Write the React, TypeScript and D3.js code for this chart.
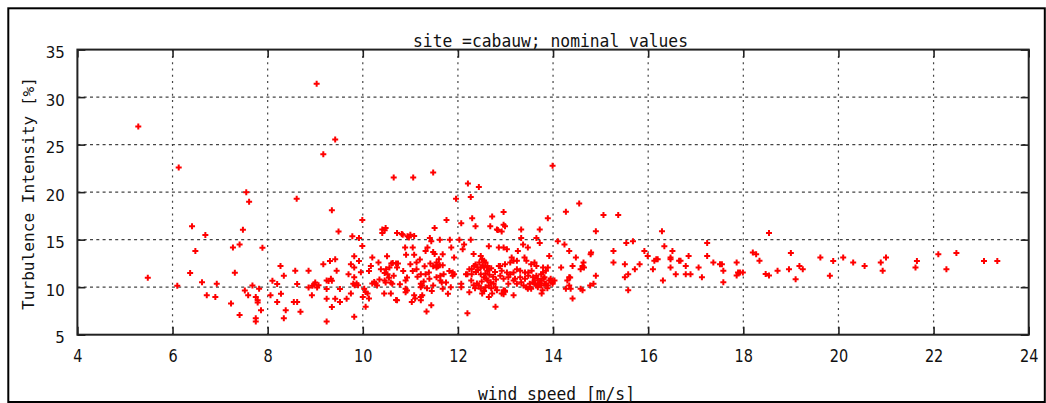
import React, { useEffect } from 'react';
import * as d3 from 'd3';

// [wind speed (m/s), turbulence intensity (%)]
type Sample = [number, number];

const xTicks = [4, 6, 8, 10, 12, 14, 16, 18, 20, 22, 24];
const yTicks = [5, 10, 15, 20, 25, 30, 35];
const titleText = 'site =cabauw; nominal values';
const xLabel = 'wind speed [m/s]';
const yLabel = 'Turbulence Intensity [%]';

const below8: Sample[] = [
  [5.28, 26.9], [5.48, 11.0], [6.1, 10.15], [6.13, 22.6], [6.37, 11.5], [6.41, 16.4], [6.48, 13.8],
  [6.62, 10.52], [6.69, 15.5], [6.72, 9.15], [6.9, 8.97], [6.93, 10.35], [7.23, 8.28], [7.27, 14.17],
  [7.31, 11.52], [7.41, 14.5], [7.41, 7.08], [7.48, 16.05], [7.52, 9.65], [7.55, 20.0], [7.59, 9.14],
  [7.61, 19.0], [7.68, 10.18], [7.75, 8.97], [7.75, 6.73], [7.75, 6.38], [7.79, 8.63], [7.79, 8.4],
  [7.82, 9.83], [7.86, 7.58], [7.89, 14.15],
];

const from8to10: Sample[] = [
  [8.06, 9.14], [8.1, 10.68], [8.2, 10.33], [8.2, 8.43], [8.27, 12.24], [8.28, 9.32], [8.34, 11.2],
  [8.38, 7.58], [8.34, 6.73], [8.58, 11.73], [8.61, 19.3], [8.62, 10.33], [8.55, 8.43], [8.62, 8.43],
  [8.69, 7.42], [8.86, 11.73], [8.86, 9.97], [8.93, 9.14], [8.94, 10.14], [8.98, 10.3], [9.0, 10.5],
  [9.04, 9.97], [9.07, 10.2], [9.03, 31.4], [9.17, 24.0], [9.42, 25.55], [9.17, 12.42], [9.24, 9.82],
  [9.24, 8.78], [9.24, 6.38], [9.31, 12.76], [9.28, 10.66], [9.35, 10.68], [9.33, 10.9], [9.42, 12.94],
  [9.45, 11.73], [9.35, 7.92], [9.42, 8.78], [9.52, 9.82], [9.52, 8.43], [9.66, 8.78], [9.7, 11.37],
  [9.35, 18.1], [9.49, 15.87], [9.24, 10.7], [9.75, 12.42], [9.82, 13.26], [9.75, 9.34], [9.82, 6.9],
  [9.8, 10.35], [9.83, 10.2], [9.87, 10.4], [9.9, 10.2], [9.82, 11.05], [9.82, 12.07], [9.92, 12.76],
  [9.96, 11.58], [9.99, 17.07], [9.78, 15.36], [9.92, 15.18], [9.99, 14.34],
];

const from10to12: Sample[] = [
  [10.03, 9.83], [10.06, 9.5], [10.1, 9.34], [10.13, 8.8], [10.06, 7.93], [10.0, 8.98], [10.17, 12.24],
  [10.2, 13.12], [10.13, 11.71], [10.2, 10.4], [10.24, 10.55], [10.27, 10.4], [10.3, 10.18], [10.41, 16.06],
  [10.48, 16.23], [10.41, 15.7], [10.46, 16.0], [10.51, 13.26], [10.6, 12.5], [10.63, 12.55], [10.7, 12.5],
  [10.74, 12.5], [10.46, 11.5], [10.49, 11.9], [10.56, 12.07], [10.52, 11.37], [10.46, 10.7], [10.48, 10.5],
  [10.59, 10.5], [10.62, 10.35], [10.59, 9.34], [10.45, 9.34], [10.72, 8.63], [10.72, 12.07], [10.72, 15.7],
  [10.65, 21.55], [10.82, 15.6], [10.84, 15.53], [10.94, 15.36], [11.0, 15.53], [10.97, 15.22],
  [11.08, 15.39], [11.06, 21.55], [11.48, 22.08], [10.89, 14.17], [11.05, 14.17], [11.36, 14.17],
  [11.32, 13.8], [10.91, 13.4], [11.08, 13.4], [11.48, 13.7], [11.51, 13.5], [11.41, 15.18], [11.44, 14.83],
  [11.51, 16.23], [11.62, 15.0], [11.68, 13.47], [11.6, 12.94], [11.55, 12.6], [11.0, 12.42], [11.13, 12.6],
  [10.85, 11.71], [11.05, 11.71], [11.13, 11.9], [11.55, 12.3], [11.58, 12.2], [11.55, 12.07], [11.62, 12.3],
  [11.68, 12.3], [11.48, 12.2], [11.22, 11.37], [11.32, 11.37], [11.39, 11.55], [11.7, 11.37], [11.63, 11.2],
  [11.82, 11.71], [11.89, 11.2], [10.93, 11.03], [10.9, 10.7], [11.22, 10.35], [11.22, 10.0], [11.25, 10.18],
  [10.9, 9.83], [10.93, 9.66], [10.9, 9.48], [11.55, 11.05], [11.63, 10.7], [11.66, 10.5], [11.48, 10.18],
  [11.68, 9.83], [11.79, 9.3], [11.08, 9.16], [11.22, 8.98], [11.25, 9.16], [11.22, 8.63], [11.03, 8.45],
  [11.44, 8.11], [11.34, 7.44], [11.1, 8.81], [11.76, 17.07], [11.83, 15.0], [11.86, 14.17], [11.96, 19.3],
  [11.92, 13.12], [11.92, 11.37], [11.89, 11.55], [10.7, 8.64], [11.15, 11.1], [11.28, 10.6], [11.4, 10.9],
  [11.45, 9.6], [11.35, 9.9], [11.75, 10.5], [11.85, 10.0], [11.3, 12.2], [11.42, 12.5], [11.2, 12.9],
  [10.35, 10.8], [10.38, 11.9], [10.55, 11.0], [10.65, 11.2], [10.78, 10.3], [10.33, 12.6],
];

const from12to14: Sample[] = [
  [12.27, 19.48], [12.21, 20.9], [12.44, 20.53], [12.07, 16.72], [12.3, 17.25], [12.72, 17.43], [12.37, 16.41],
  [12.68, 16.41], [12.82, 16.06], [12.03, 15.0], [12.13, 14.48], [12.27, 15.0], [12.65, 14.31], [12.1, 14.0],
  [12.2, 7.27], [12.29, 11.37], [12.2, 11.37], [12.29, 11.9], [12.07, 10.35], [12.07, 10.0], [12.24, 9.48],
  [12.33, 13.5], [12.37, 12.4], [12.48, 13.29], [12.51, 12.94], [12.55, 12.77], [12.58, 12.59], [12.62, 12.24],
  [12.65, 11.89], [12.41, 12.07], [12.48, 12.07], [12.55, 12.07], [12.62, 11.72], [12.48, 11.36], [12.55, 11.05],
  [12.62, 10.7], [12.69, 10.53], [12.75, 10.35], [12.79, 10.0], [12.44, 10.18], [12.48, 9.83], [12.58, 10.0],
  [12.65, 10.18], [12.51, 9.33], [12.65, 8.98], [12.72, 9.33], [12.82, 9.68], [12.86, 12.24], [12.86, 14.17],
  [12.34, 12.24], [12.17, 11.36], [12.24, 11.89], [12.79, 7.93], [12.96, 17.91], [12.84, 16.02], [12.92, 15.85],
  [12.96, 16.58], [12.99, 16.41], [13.33, 16.06], [13.72, 16.06], [13.33, 15.18], [13.65, 15.18], [13.72, 14.66],
  [13.37, 14.48], [13.47, 14.17], [12.96, 14.17], [13.03, 14.0], [13.26, 13.82], [13.92, 13.29], [13.13, 13.12],
  [13.17, 12.77], [13.1, 12.59], [13.24, 12.77], [13.4, 13.12], [13.44, 12.77], [12.99, 12.42], [12.89, 12.24],
  [13.54, 12.42], [13.61, 12.59], [13.65, 12.24], [13.79, 12.07], [13.89, 12.07], [13.85, 11.72], [12.92, 11.72],
  [13.03, 11.54], [13.1, 11.37], [13.17, 11.54], [13.24, 11.89], [13.31, 11.72], [13.41, 11.54], [13.48, 11.54],
  [13.55, 11.72], [13.48, 11.19], [13.58, 11.05], [13.65, 11.19], [13.68, 10.88], [13.75, 11.37], [13.79, 11.54],
  [13.82, 11.05], [12.89, 11.19], [12.96, 10.88], [13.06, 11.05], [13.17, 10.7], [13.2, 10.88], [13.31, 11.05],
  [13.33, 10.53], [13.41, 10.88], [13.51, 10.35], [13.58, 10.53], [13.61, 10.7], [13.72, 10.53], [13.75, 10.7],
  [13.85, 10.35], [13.92, 10.7], [13.99, 10.53], [13.06, 10.35], [13.24, 10.35], [13.38, 10.18], [13.44, 10.0],
  [13.47, 9.83], [13.51, 10.0], [13.54, 9.83], [13.65, 10.18], [13.68, 10.0], [13.75, 10.18], [13.78, 9.68],
  [13.82, 10.35], [13.89, 10.18], [13.99, 10.35], [12.96, 9.68], [12.92, 9.33], [12.99, 9.51], [13.17, 9.16],
  [13.76, 9.33], [13.99, 22.78], [13.89, 17.25], [12.96, 9.26], [12.99, 9.62], [12.38, 11.6], [12.42, 11.8],
  [12.45, 12.6], [12.52, 12.3], [12.58, 11.45], [12.6, 10.9], [12.66, 11.3], [12.7, 12.0], [12.74, 11.1],
  [12.78, 11.6], [12.8, 10.8], [12.5, 10.6], [12.4, 10.4], [12.36, 9.9], [12.55, 9.6], [12.7, 9.9],
  [12.28, 10.7], [12.33, 10.2], [13.62, 10.4], [13.7, 10.3], [13.8, 10.9], [13.95, 10.9], [13.88, 9.9],
];

const from14to18: Sample[] = [
  [14.55, 18.8], [14.27, 17.95], [14.9, 15.88], [14.1, 14.83], [14.24, 14.48], [14.34, 13.82], [14.48, 13.12],
  [14.79, 13.47], [14.17, 12.07], [14.41, 12.24], [14.62, 12.24], [14.65, 12.07], [14.3, 10.7], [14.34, 11.05],
  [14.27, 9.83], [14.34, 10.18], [14.37, 9.83], [14.58, 9.83], [14.62, 9.68], [14.78, 10.18], [14.85, 10.35],
  [14.41, 8.81], [14.58, 11.89], [14.9, 11.19], [14.8, 13.64], [14.64, 12.59], [14.03, 10.7], [14.36, 11.01],
  [15.06, 17.6], [15.37, 17.6], [16.29, 15.88], [15.54, 14.66], [15.68, 14.83], [15.27, 13.82], [15.27, 12.59],
  [15.51, 12.42], [15.51, 11.05], [15.58, 11.37], [15.58, 9.68], [15.72, 11.89], [15.82, 12.42], [15.92, 13.82],
  [15.99, 13.29], [16.1, 11.89], [16.13, 12.77], [16.17, 12.94], [16.2, 12.94], [16.34, 14.31], [16.31, 10.7],
  [16.47, 13.12], [16.47, 12.94], [16.51, 13.82], [16.47, 12.07], [16.58, 11.37], [16.65, 12.77], [16.68, 12.77],
  [16.79, 12.24], [16.79, 11.37], [16.89, 11.37], [16.85, 13.29], [17.06, 12.07], [17.13, 11.05], [17.24, 14.66],
  [17.24, 13.29], [17.37, 12.59], [17.51, 12.42], [17.55, 12.42], [17.58, 11.72], [17.58, 10.53], [17.86, 12.59],
  [17.86, 11.22], [17.89, 11.54], [17.93, 11.54], [17.99, 11.54],
];

const above18: Sample[] = [
  [18.2, 13.64], [18.27, 13.47], [18.34, 12.77], [18.47, 11.4], [18.54, 11.22], [18.54, 15.71], [18.72, 11.72],
  [18.96, 11.9], [19.0, 13.6], [19.1, 10.84], [19.18, 12.24], [19.25, 11.9], [19.62, 13.12], [19.82, 11.19],
  [19.89, 12.76], [20.1, 13.12], [20.31, 12.6], [20.55, 12.24], [20.89, 12.6], [20.93, 11.72], [21.0, 13.12],
  [21.62, 12.07], [21.65, 12.76], [22.1, 13.47], [22.27, 11.9], [22.48, 13.6], [23.06, 12.76], [23.34, 12.76],
];

export default function App() {
  useEffect(() => {
    const width = 1046;
    const height = 403;
    const plot = { left: 77.4, right: 1028.7, top: 49.6, bottom: 334.7 };

    const root = d3.select('#turbulence-chart');
    root.selectAll('*').remove();

    const svg = root
      .append('svg')
      .attr('width', width)
      .attr('height', height)
      .style('display', 'block')
      .style('background', '#fff');

    const xScale = d3.scaleLinear().domain([4, 24]).range([plot.left, plot.right]);
    const yScale = d3.scaleLinear().domain([5, 35]).range([plot.bottom, plot.top]);

    const mono = "'DejaVu Sans Mono', monospace";
    const sans = "'DejaVu Sans', sans-serif";

    // outer frame
    svg
      .append('rect')
      .attr('x', 8.3)
      .attr('y', 8.3)
      .attr('width', 1036.5)
      .attr('height', 393.7)
      .attr('fill', 'none')
      .attr('stroke', '#000')
      .attr('stroke-width', 2);

    // grid
    svg
      .append('g')
      .selectAll('line')
      .data(xTicks.slice(1, -1))
      .join('line')
      .attr('x1', (d) => xScale(d))
      .attr('x2', (d) => xScale(d))
      .attr('y1', plot.top)
      .attr('y2', plot.bottom)
      .attr('stroke', '#444')
      .attr('stroke-width', 1.2)
      .attr('stroke-dasharray', '2,4.3');

    svg
      .append('g')
      .selectAll('line')
      .data(yTicks.slice(1, -1))
      .join('line')
      .attr('x1', plot.left)
      .attr('x2', plot.right)
      .attr('y1', (d) => yScale(d))
      .attr('y2', (d) => yScale(d))
      .attr('stroke', '#444')
      .attr('stroke-width', 1.2)
      .attr('stroke-dasharray', '3,3.3');

    const styleAxis = (g: any) => {
      g.select('.domain').remove();
      g.selectAll('.tick line').attr('stroke', '#222').attr('stroke-width', 1.6);
    };

    const xAxis = d3.axisBottom(xScale).tickValues(xTicks).tickSizeInner(-8).tickSizeOuter(0).tickFormat(d3.format('d'));
    svg
      .append('g')
      .attr('transform', `translate(0, ${plot.bottom})`)
      .call(xAxis)
      .call(styleAxis)
      .call((g: any) =>
        g
          .selectAll('text')
          .attr('y', 27.5)
          .attr('dy', null)
          .attr('fill', '#111')
          .style('font-family', sans)
          .style('font-size', '18px')
          .attr('textLength', (d: number) => String(d).length * 9.2)
          .attr('lengthAdjust', 'spacingAndGlyphs'),
      );

    svg
      .append('g')
      .attr('transform', `translate(0, ${plot.top})`)
      .call(d3.axisTop(xScale).tickValues(xTicks).tickSizeInner(-8).tickSizeOuter(0).tickFormat(() => ''))
      .call(styleAxis);

    const yAxis = d3.axisLeft(yScale).tickValues(yTicks).tickSizeInner(-8).tickSizeOuter(0).tickPadding(12.5);
    svg
      .append('g')
      .attr('transform', `translate(${plot.left}, 0)`)
      .call(yAxis)
      .call(styleAxis)
      .call((g: any) =>
        g
          .selectAll('text')
          .attr('dy', 8)
          .attr('fill', '#111')
          .style('font-family', sans)
          .style('font-size', '15px'),
      );

    svg
      .append('g')
      .attr('transform', `translate(${plot.right}, 0)`)
      .call(d3.axisRight(yScale).tickValues(yTicks).tickSizeInner(-8).tickSizeOuter(0).tickFormat(() => ''))
      .call(styleAxis);

    // plot border
    svg
      .append('rect')
      .attr('x', plot.left)
      .attr('y', plot.top)
      .attr('width', plot.right - plot.left)
      .attr('height', plot.bottom - plot.top)
      .attr('fill', 'none')
      .attr('stroke', '#222')
      .attr('stroke-width', 2);

    // points
    const samples = [...below8, ...from8to10, ...from10to12, ...from12to14, ...from14to18, ...above18];
    const cross = d3.symbol(d3.symbolCross, 20);
    svg
      .append('g')
      .selectAll('path')
      .data(samples)
      .join('path')
      .attr('transform', (d) => `translate(${xScale(d[0])}, ${yScale(d[1])})`)
      .attr('d', cross)
      .attr('fill', '#ff0000');

    // texts
    svg
      .append('text')
      .attr('x', 550.5)
      .attr('y', 46.5)
      .attr('text-anchor', 'middle')
      .attr('textLength', 275)
      .attr('lengthAdjust', 'spacingAndGlyphs')
      .style('font-family', mono)
      .style('font-size', '17px')
      .attr('fill', '#111')
      .text(titleText);

    svg
      .append('text')
      .attr('x', 556.5)
      .attr('y', 400)
      .attr('text-anchor', 'middle')
      .attr('textLength', 157)
      .attr('lengthAdjust', 'spacingAndGlyphs')
      .style('font-family', mono)
      .style('font-size', '17px')
      .attr('fill', '#111')
      .text(xLabel);

    svg
      .append('text')
      .attr('transform', 'translate(34, 193.5) rotate(-90)')
      .attr('text-anchor', 'middle')
      .attr('textLength', 233)
      .attr('lengthAdjust', 'spacingAndGlyphs')
      .style('font-family', mono)
      .style('font-size', '16px')
      .attr('fill', '#111')
      .text(yLabel);
  }, []);

  return <div id="turbulence-chart" style={{ position: 'absolute', left: 0, top: 0 }}></div>;
}
